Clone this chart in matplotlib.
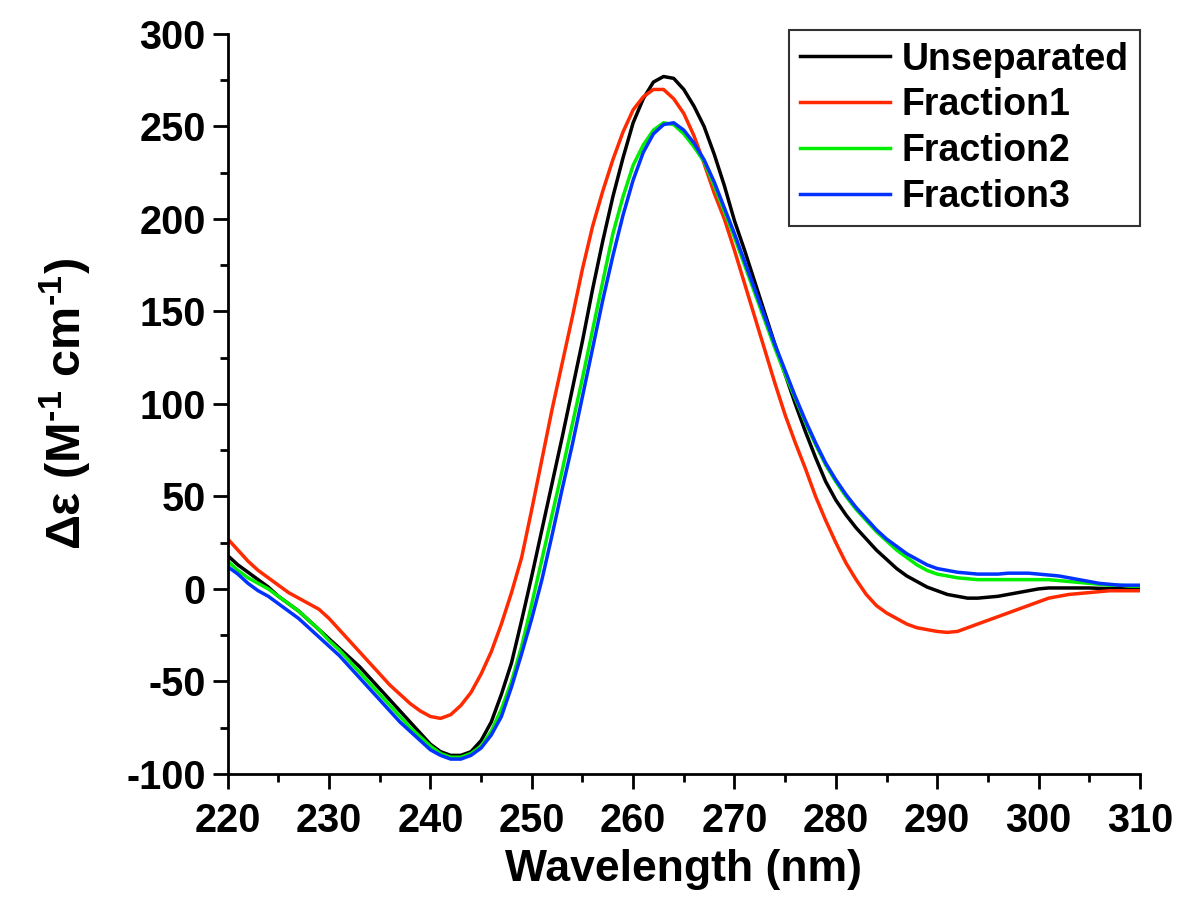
import matplotlib
matplotlib.use("Agg")
import matplotlib.pyplot as plt
import numpy as np
from matplotlib.ticker import MultipleLocator

wavelength = np.arange(220, 311)

unseparated = [18, 13, 9, 5, 1, -4, -8, -12, -17, -22,
               -27, -32, -37, -42, -48, -54, -60, -66, -72, -78,
               -84, -88, -90, -90, -88, -82, -72, -57, -40, -17,
               7, 32, 57, 82, 108, 134, 162, 188, 212, 233,
               252, 265, 274, 277, 276, 270, 261, 250, 235, 218,
               199, 183, 166, 149, 132, 116, 100, 85, 71, 58,
               48, 40, 33, 27, 21, 16, 11, 7, 4, 1,
               -1, -3, -4, -5, -5, -4.5, -4, -3, -2, -1,
               0, 0.5, 0.5, 0.5, 0.5, 0.5, 0.3, 0.2, 0.1, 0, 0]

fraction1 = [27, 21, 15, 10, 6, 2, -2, -5, -8, -11,
             -16, -22, -28, -34, -40, -46, -52, -57, -62, -66,
             -69, -70, -68, -63, -56, -46, -34, -19, -2, 17,
             43, 70, 97, 122, 147, 173, 196, 215, 232, 247,
             259, 266, 270, 270, 265, 257, 245, 230, 214, 200,
             183, 165, 147, 129, 111, 94, 79, 65, 50, 37,
             25, 14, 5, -3, -9, -13, -16, -19, -21, -22,
             -23, -23.5, -23, -21, -19, -17, -15, -13, -11, -9,
             -7, -5, -4, -3, -2.5, -2, -1.5, -1, -1, -1, -1]

fraction2 = [15, 10, 6, 3, 0, -4, -8, -12, -17, -22,
             -28, -33, -39, -45, -51, -57, -63, -69, -75, -80,
             -85, -89, -91, -91, -89, -85, -77, -65, -50, -31,
             -8, 16, 40, 64, 89, 114, 140, 166, 192, 212,
             229, 240, 248, 252, 251, 246, 239, 231, 218, 204,
             190, 175, 160, 145, 130, 116, 103, 90, 78, 67,
             58, 50, 43, 37, 31, 26, 21, 17, 13, 10,
             8, 7, 6, 5.5, 5, 5, 5, 5, 5, 5,
             5, 5, 4.5, 4, 3.5, 3, 2.5, 2, 2, 1.5, 1.5]

fraction3 = [12, 8, 3, -1, -4, -8, -12, -16, -21, -26,
             -31, -36, -42, -48, -54, -60, -66, -72, -77, -82,
             -87, -90, -92, -92, -90, -86, -79, -69, -53, -35,
             -16, 5, 29, 54, 78, 104, 130, 156, 180, 202,
             221, 236, 246, 251, 252, 248, 241, 232, 220, 206,
             192, 177, 162, 147, 132, 118, 104, 91, 79, 68,
             59, 51, 44, 38, 32, 27, 23, 19, 16, 13,
             11, 10, 9, 8.5, 8, 8, 8, 8.5, 8.5, 8.5,
             8, 7.5, 7, 6, 5, 4, 3, 2.5, 2, 2, 2]

labels = ["Unseparated", "Fraction1", "Fraction2", "Fraction3"]
colors = ["#000000", "#ff2a00", "#00ee00", "#0033ff"]

plt.rcParams["font.family"] = ["Liberation Sans", "DejaVu Sans"]
plt.rcParams["font.weight"] = "bold"
plt.rcParams["axes.unicode_minus"] = False
plt.rcParams["mathtext.fontset"] = "custom"
plt.rcParams["mathtext.rm"] = "Liberation Sans:bold"
plt.rcParams["mathtext.bf"] = "Liberation Sans:bold"
plt.rcParams["mathtext.default"] = "bf"

fig = plt.figure(figsize=(11.8, 9.18), dpi=100)
ax = fig.add_axes([0.193, 0.157, 0.773, 0.806])

for y, lab, c in zip([unseparated, fraction1, fraction2, fraction3], labels, colors):
    ax.plot(wavelength, y, color=c, lw=2.5, label=lab)

ax.set_xlim(220, 310)
ax.set_ylim(-100, 300)
ax.xaxis.set_major_locator(MultipleLocator(10))
ax.xaxis.set_minor_locator(MultipleLocator(5))
ax.yaxis.set_major_locator(MultipleLocator(50))
ax.yaxis.set_minor_locator(MultipleLocator(25))

for s in ["top", "right"]:
    ax.spines[s].set_visible(False)
for s in ["left", "bottom"]:
    ax.spines[s].set_linewidth(2)

ax.tick_params(which="major", direction="out", length=11, width=2,
               labelsize=28.5, pad=5)
ax.tick_params(axis="x", which="major", pad=9)
ax.tick_params(which="minor", direction="out", length=6, width=2)
for t in ax.get_xticklabels() + ax.get_yticklabels():
    t.set_fontweight("bold")

ax.set_xlabel("Wavelength (nm)", fontsize=32, fontweight="bold", labelpad=7)
ax.set_ylabel("Δε (M$^{\\text{-1}}$ cm$^{\\text{-1}}$)", fontsize=35,
              fontweight="bold", labelpad=24)

leg = ax.legend(loc="upper right", bbox_to_anchor=(1.0, 1.005), borderaxespad=0,
                fontsize=27, frameon=True, fancybox=False, handlelength=2.4,
                handletextpad=0.3, labelspacing=0.26, borderpad=0.3)
leg.get_frame().set_edgecolor("black")
leg.get_frame().set_linewidth(1.5)
for t in leg.get_texts():
    t.set_fontweight("bold")

fig.savefig("out.png", dpi=100)
